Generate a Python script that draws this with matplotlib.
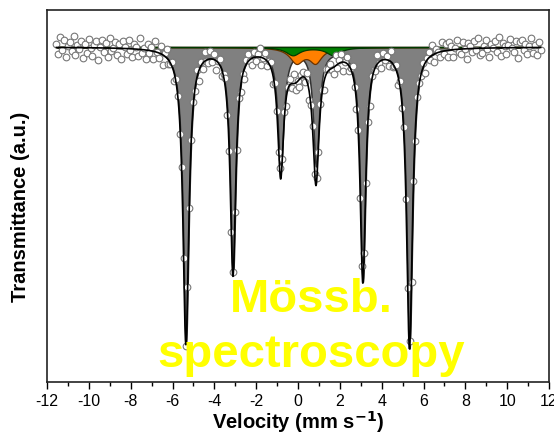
import numpy as np
import matplotlib.pyplot as plt

plt.rcParams['font.family'] = ['Liberation Sans', 'DejaVu Sans']
plt.rcParams['axes.unicode_minus'] = False

# sextet lines (velocity, depth, half width)
sext_pos = [-5.36, -3.11, -0.83, 0.86, 3.10, 5.33]
sext_depth = [0.296, 0.226, 0.122, 0.116, 0.232, 0.300]
sext_width = [0.17, 0.16, 0.17, 0.17, 0.16, 0.17]

# orange doublet
dbl1_pos = [-0.08, 0.83]
dbl1_depth = [0.015, 0.0145]
dbl1_width = [0.40, 0.36]

# green doublet
dbl2_pos = [-0.25, 1.68]
dbl2_depth = [0.008, 0.008]
dbl2_width = [0.40, 0.40]

baseline = 1.0
v_min, v_max, n_chan = -11.55, 11.6, 256

# scatter of measured points around the fit (x 0.0013)
resid = [3, -5, 8, -2, 6, -7, 1, 4, -3, 9, -6, 2, -1, 5, -8, 3,
         -4, 7, 0, -6, 2, 5, -9, 1, 6, -3, 4, -7, 8, -2, 0, 5,
         -5, 3, -8, 6, 1, -4, 7, -1, -6, 4, 2, -5, 9, -3, 1, -7,
         5, -2, 3, -6, 8, 0, -4, 6, -8, 2, 7, -3, -1, 4, -6, 3,
         1, -7, 5, 2, -3, 8, -5, 0, 4, -2, 6, -8, 3, -4, 7, -1,
         -3, 6, -2, 4, -7, 1, 5, -5, 2, 8, -4, 0, -6, 3, 5, -2,
         7, -4, 1, -8, 3, 6, -1, -5, 4, -3, 2, 7, -6, 0, 5, -4,
         2, 5, -7, 3, -1, -4, 8, -2, 6, -6, 1, 4, -3, 7, -5, 0,
         -6, 2, 4, -3, 7, -8, 0, 5, -2, 3, -5, 6, 1, -7, 4, 2,
         4, -1, -5, 8, -3, 2, 6, -7, 0, 5, -4, 1, 7, -2, -6, 3,
         -2, 6, 3, -5, 1, -8, 4, 2, -3, 7, -1, -6, 5, 0, 3, -4,
         8, -3, 0, 4, -6, 5, -2, 7, -4, 1, 6, -5, 2, -8, 3, 1,
         -1, 4, -7, 2, 5, -3, 8, -6, 3, 0, -4, 7, -2, 5, -5, 6,
         3, -6, 1, 7, -2, -4, 5, 0, -8, 4, 2, -3, 6, -1, 8, -5,
         -4, 2, 6, -1, -7, 3, 0, 5, -3, 8, -6, 4, 1, -5, 2, 7,
         0, -3, 5, -8, 4, 6, -2, 3, -5, 1, 7, -4, 2, -6, 4, -2]

xticks = np.arange(-12, 13, 2)


def lor(v, pos, depth, width):
    out = np.zeros_like(v)
    for c, d, g in zip(pos, depth, width):
        out += d * g**2 / ((v - c)**2 + g**2)
    return out


v = np.linspace(v_min, v_max, 3000)
s1 = lor(v, sext_pos, sext_depth, sext_width)
s2 = lor(v, dbl1_pos, dbl1_depth, dbl1_width)
s3 = lor(v, dbl2_pos, dbl2_depth, dbl2_width)
fit = baseline - s1 - s2 - s3

vc = np.linspace(v_min, v_max, n_chan)
data = (baseline - lor(vc, sext_pos, sext_depth, sext_width)
        - lor(vc, dbl1_pos, dbl1_depth, dbl1_width)
        - lor(vc, dbl2_pos, dbl2_depth, dbl2_width)
        + np.array(resid) * 0.0013)

fig = plt.figure(figsize=(5.54, 4.43), dpi=100)
ax = fig.add_axes([47/554, 61/443, 502/554, 372/443])

ax.fill_between(v, baseline, baseline - s1, facecolor='#808080',
                edgecolor='#333333', lw=1.1, zorder=1)
ax.fill_between(v, baseline, baseline - s2, facecolor='#ff8000',
                edgecolor='#6a3200', lw=0.9, zorder=2)
ax.fill_between(v, baseline, baseline - s3, facecolor='#008000',
                edgecolor='#003a00', lw=0.9, zorder=3)
ax.plot(vc, data, 'o', ms=4.8, mfc='white', mec='#777777', mew=0.8, zorder=4)
ax.plot(v, fit, color='black', lw=1.2, zorder=5)

ax.set_xlim(-12, 12)
ax.set_ylim(0.665, 1.037)
ax.set_xticks(xticks)
ax.set_xticks(np.arange(-11, 12, 2), minor=True)
ax.set_yticks([])
ax.tick_params(axis='x', which='major', direction='out', length=5, width=1,
               labelsize=11.5, pad=4)
ax.tick_params(axis='x', which='minor', direction='out', length=3, width=1)
for s in ax.spines.values():
    s.set_linewidth(1.2)
    s.set_color('#222222')

ax.set_xlabel(r'Velocity (mm s$^{\mathbf{-1}}$)', fontsize=14.5,
              fontweight='bold', labelpad=0)
ax.set_ylabel('Transmittance (a.u.)', fontsize=14.5, fontweight='bold')
ax.yaxis.set_label_coords(-0.034, 0.47)

fig.text(311/554, (443-312)/443, 'Mössb.', color='yellow', fontsize=34,
         fontweight='bold', ha='center', va='baseline')
fig.text(311/554, (443-367)/443, 'spectroscopy', color='yellow', fontsize=34,
         fontweight='bold', ha='center', va='baseline')

fig.savefig('out.png', dpi=100)
